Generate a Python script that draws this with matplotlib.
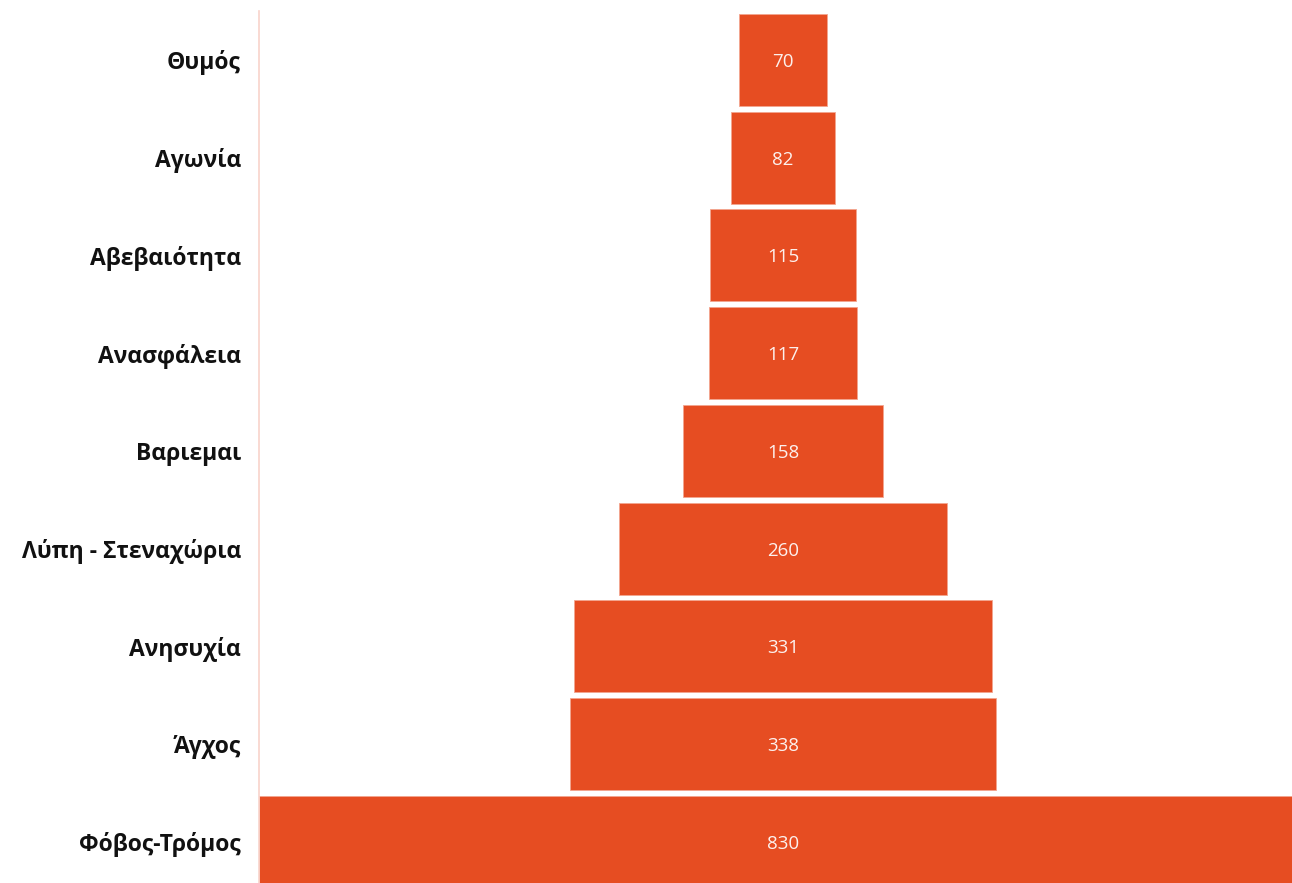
import matplotlib
matplotlib.use("Agg")
import matplotlib.pyplot as plt

# categories top to bottom
labels = ["Θυμός", "Αγωνία", "Αβεβαιότητα", "Ανασφάλεια", "Βαριεμαι",
          "Λύπη - Στεναχώρια", "Ανησυχία", "Άγχος", "Φόβος-Τρόμος"]
values = [70, 82, 115, 117, 158, 260, 331, 338, 830]

bar_color = "#E64D22"

fig = plt.figure(figsize=(12.92, 8.83), dpi=100)
ax = fig.add_axes([259 / 1292, 0, 1 - 259 / 1292, 1 - 11 / 883])

pos = list(range(len(labels)))
lefts = [-v / 2 for v in values]
ax.barh(pos, values, left=lefts, height=0.94, color=bar_color,
        edgecolor="#F3A68F", linewidth=0.6)

for p, v in zip(pos, values):
    ax.text(0, p + 0.02, str(v), ha="center", va="center", color="white",
            fontsize=13.5, family="Open Sans", alpha=0.92)

ax.set_xlim(-415, 403)
ax.set_ylim(8.42, -0.5)
ax.set_yticks(pos)
ax.set_yticklabels(labels, fontsize=16.5, fontweight="bold", family="Open Sans",
                   color="#111111")
ax.tick_params(axis="y", length=0, pad=13)
for t in ax.get_yticklabels():
    t.set_y(t.get_position()[1])
ax.set_xticks([])
for s in ["top", "right", "bottom"]:
    ax.spines[s].set_visible(False)
ax.spines["left"].set_color("#F8D3CB")
ax.spines["left"].set_linewidth(1.2)

fig.savefig("out.png", dpi=100)
